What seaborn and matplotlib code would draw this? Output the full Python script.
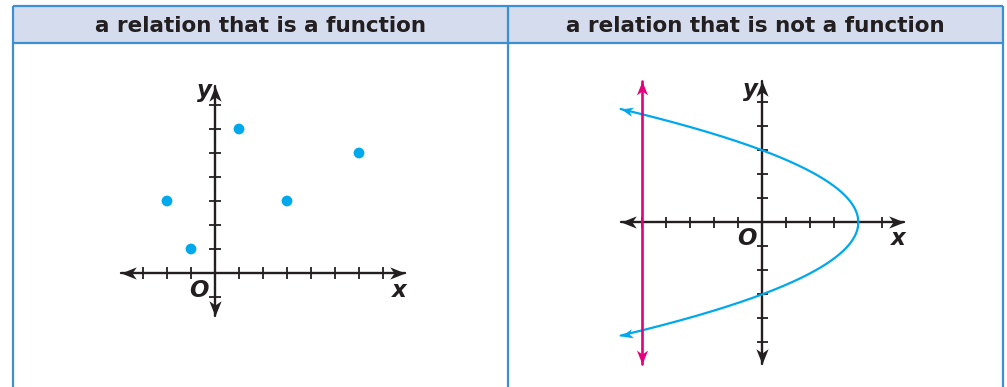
import numpy as np
import pandas as pd
import matplotlib
matplotlib.use("Agg")
import matplotlib.pyplot as plt
from matplotlib.path import Path
from matplotlib.markers import MarkerStyle
from matplotlib.transforms import Affine2D
import seaborn as sns

# ---------------- data ----------------
titles = ["a relation that is a function", "a relation that is not a function"]

# left panel: discrete points
func_x = [-2, -1, 1, 3, 6]
func_y = [3, 1, 6, 3, 5]

# right panel: sideways parabola x = vx - k*y^2 (read: vertex (4,0), y-intercepts +-3)
parab_vertex_x = 4
parab_y_intercept = 3
parab_y_end = 4.72
vline_x = -5
vline_y_end = 5.9

# axis extents / ticks
left_xticks = [-3, -2, -1, 1, 2, 3, 4, 5, 6, 7]
left_yticks = [-1, 1, 2, 3, 4, 5, 6, 7]
left_xrange = (-3.9, 7.9)
left_yrange = (-1.8, 7.8)

right_xticks = [-5, -4, -3, -2, -1, 1, 2, 3, 4, 5]
right_yticks = [-5, -4, -3, -2, -1, 1, 2, 3, 4, 5]
right_xrange = (-5.9, 5.9)
right_yrange = (-5.9, 5.9)

# ---------------- style ----------------
sns.set_theme(style="white")
plt.rcParams["font.family"] = ["DejaVu Sans"]

AXC = "#231F20"
CYAN = "#00A8EC"
MAGENTA = "#E5007D"
BORDER = "#3D8FD4"
HEADER = "#D4DCEE"

W, H = 1007, 387
fig = plt.figure(figsize=(W / 100, H / 100), dpi=100)
fig.patch.set_facecolor("white")

# background table
bg = fig.add_axes([0, 0, 1, 1])
bg.set_xlim(0, W)
bg.set_ylim(H, 0)
bg.axis("off")
L, R, T, HB, DIV = 13, 1003, 6, 43, 508
bg.fill_between([L, R], T, HB, color=HEADER, lw=0, zorder=0)
bg.plot([L, R], [T, T], color=BORDER, lw=1.6, solid_capstyle="butt")
bg.plot([L, R], [HB, HB], color=BORDER, lw=1.6, solid_capstyle="butt")
bg.plot([L, L], [T, H], color=BORDER, lw=1.6, solid_capstyle="butt")
bg.plot([R, R], [T, H], color=BORDER, lw=1.6, solid_capstyle="butt")
bg.plot([DIV, DIV], [T, H], color=BORDER, lw=1.6, solid_capstyle="butt")
bg.text((L + DIV) / 2, (T + HB) / 2 + 1, titles[0], ha="center", va="center",
        fontsize=15.5, fontweight="bold", color=AXC)
bg.text((DIV + R) / 2, (T + HB) / 2 + 1, titles[1], ha="center", va="center",
        fontsize=15.5, fontweight="bold", color=AXC)

UNIT = 24.0  # pixels per unit


def make_axes(px0, px1, py0, py1, ox, oy):
    ax = fig.add_axes([px0 / W, (H - py1) / H, (px1 - px0) / W, (py1 - py0) / H])
    ax.set_xlim((px0 - ox) / UNIT, (px1 - ox) / UNIT)
    ax.set_ylim((oy - py1) / UNIT, (oy - py0) / UNIT)
    ax.axis("off")
    ax.patch.set_alpha(0)
    return ax


# barbed arrowhead path pointing +x with tip at origin
head_verts = [(0, 0), (-1, 0.4), (-0.72, 0), (-1, -0.4), (0, 0)]
head_codes = [Path.MOVETO, Path.LINETO, Path.LINETO, Path.LINETO, Path.CLOSEPOLY]


def head_marker(angle):
    v = Affine2D().rotate_deg(angle).transform(np.array(head_verts, float))
    return MarkerStyle(Path(v, head_codes))


def arrow_head(ax, x, y, angle, color, size):
    ax.plot([x], [y], marker=head_marker(angle), markersize=size, color=color,
            markeredgewidth=0, linestyle="none", zorder=5)


def draw_axes(ax, xr, yr, xt, yt):
    ax.plot([xr[0], xr[1]], [0, 0], color=AXC, lw=1.7, zorder=3)
    ax.plot([0, 0], [yr[0], yr[1]], color=AXC, lw=1.7, zorder=3)
    tl = 0.23
    ax.vlines(xt, -tl, tl, color=AXC, lw=1.3, zorder=3)
    ax.hlines(yt, -tl, tl, color=AXC, lw=1.3, zorder=3)
    arrow_head(ax, xr[1], 0, 0, AXC, 22)
    arrow_head(ax, xr[0], 0, 180, AXC, 22)
    arrow_head(ax, 0, yr[1], 90, AXC, 22)
    arrow_head(ax, 0, yr[0], 270, AXC, 22)


def labels(ax, ypos, opos, xpos):
    kw = dict(fontsize=16.5, fontweight="bold", fontstyle="italic", color=AXC,
              ha="center", va="center")
    ax.text(*ypos, "y", **kw)
    ax.text(*opos, "O", **kw)
    ax.text(*xpos, "x", **kw)


# ---------------- left panel ----------------
ax1 = make_axes(100, 430, 60, 330, 215, 273)
draw_axes(ax1, left_xrange, left_yrange, left_xticks, left_yticks)
df1 = pd.DataFrame({"x": func_x, "y": func_y})
sns.scatterplot(data=df1, x="x", y="y", ax=ax1, color=CYAN, s=60,
                edgecolor="none", zorder=6)
ax1.axis("off")
labels(ax1, (-0.46, 7.62), (-0.69, -0.73), (7.67, -0.71))

# ---------------- right panel ----------------
ax2 = make_axes(590, 930, 55, 385, 762.3, 222.3)
draw_axes(ax2, right_xrange, right_yrange, right_xticks, right_yticks)

k = parab_vertex_x / parab_y_intercept ** 2
py = np.linspace(-parab_y_end, parab_y_end, 300)
df2 = pd.DataFrame({"x": parab_vertex_x - k * py ** 2, "y": py})
sns.lineplot(data=df2, x="x", y="y", ax=ax2, sort=False, color=CYAN, lw=1.6,
             zorder=4, estimator=None)
slope = 2 * k * parab_y_end
ang = np.degrees(np.arctan2(1, -slope))
xe = parab_vertex_x - k * parab_y_end ** 2
arrow_head(ax2, xe, parab_y_end, ang, CYAN, 18)
arrow_head(ax2, xe, -parab_y_end, -ang, CYAN, 18)

df3 = pd.DataFrame({"x": [vline_x, vline_x], "y": [-vline_y_end, vline_y_end]})
sns.lineplot(data=df3, x="x", y="y", ax=ax2, sort=False, color=MAGENTA, lw=1.9,
             zorder=4, estimator=None)
arrow_head(ax2, vline_x, vline_y_end, 90, MAGENTA, 20)
arrow_head(ax2, vline_x, -vline_y_end, 270, MAGENTA, 20)
ax2.axis("off")
labels(ax2, (-0.49, 5.52), (-0.66, -0.68), (5.67, -0.68))

fig.savefig("out.png", dpi=100)
